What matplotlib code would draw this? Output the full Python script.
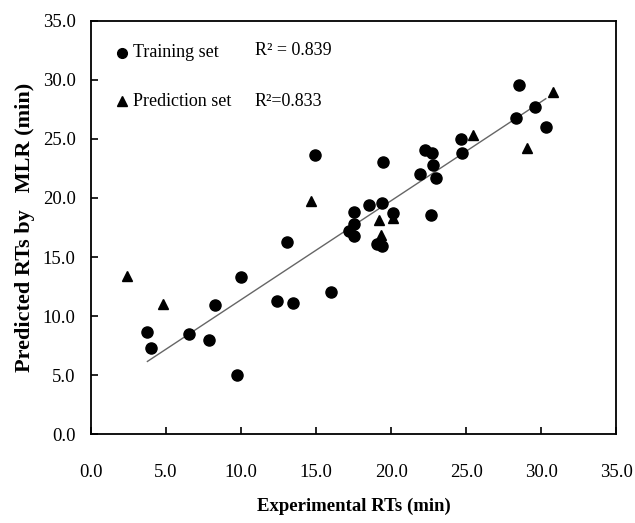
import numpy as np
import matplotlib
matplotlib.use("Agg")
import matplotlib.pyplot as plt

plt.rcParams["font.family"] = ["Liberation Serif", "DejaVu Serif"]

# training set: experimental vs predicted RTs (min)
train_exp = [3.76, 3.98, 6.55, 7.89, 8.29, 9.71, 10.02, 12.38, 13.49, 13.04,
             15.98, 14.93, 17.55, 17.2, 17.5, 17.5, 18.55, 19.38, 20.1, 19.04,
             19.38, 19.49, 21.93, 22.27, 22.71, 22.82, 23.0, 22.64, 24.64, 24.75,
             28.33, 28.51, 29.62, 30.31]
train_pred = [8.62, 7.29, 8.48, 7.99, 10.97, 5.02, 13.27, 11.31, 11.14, 16.27,
              12.07, 23.64, 18.82, 17.2, 17.8, 16.8, 19.39, 19.58, 18.7, 16.13,
              15.9, 23.02, 22.0, 24.06, 23.78, 22.79, 21.71, 18.54, 25.0, 23.78,
              26.81, 29.53, 27.69, 26.0]

# prediction set
test_exp = [2.38, 4.78, 14.67, 19.2, 20.1, 19.33, 25.49, 29.09, 30.78]
test_pred = [13.35, 11.03, 19.73, 18.17, 18.3, 16.84, 25.34, 24.21, 29.02]

r2_train = 0.839
r2_test = 0.833

fig = plt.figure(figsize=(6.35, 5.23), dpi=100)
ax = fig.add_axes([0.1433, 0.170, 0.827, 0.790])

# fitted line over the training range
k, b = np.polyfit(train_exp, train_pred, 1)
xl = np.array([min(train_exp), max(train_exp)])
ax.plot(xl, k * xl + b, color="#666666", lw=1.0, zorder=1)

ax.plot(train_exp, train_pred, "o", color="black", ms=8, zorder=3)
ax.plot(test_exp, test_pred, "^", color="black", ms=7.5, zorder=3)

ax.set_xlim(0, 35)
ax.set_ylim(0, 35)
ticks = np.arange(0, 35.1, 5)
ax.set_xticks(ticks)
ax.set_yticks(ticks)
ax.set_xticklabels([f"{t:.1f}" for t in ticks])
ax.set_yticklabels([f"{t:.1f}" for t in ticks])
ax.tick_params(axis="x", direction="in", length=5, width=1.2, pad=21.5, labelsize=13.5)
ax.tick_params(axis="y", direction="in", length=5, width=1.2, pad=11, labelsize=13.5)
for s in ax.spines.values():
    s.set_linewidth(1.3)

ax.text(0.5, -0.175, "Experimental RTs (min)", transform=ax.transAxes,
        fontsize=13.5, fontweight="bold", ha="center", va="center")
ax.text(-0.126, 0.5, "Predicted RTs by   MLR (min)", transform=ax.transAxes,
        fontsize=16, fontweight="bold", ha="center", va="center", rotation=90)

# legend-like annotations
ax.plot([2.05], [32.3], "o", color="black", ms=7)
ax.text(2.8, 32.3, "Training set", fontsize=13, va="center")
ax.text(10.93, 32.5, f"R² = {r2_train:.3f}", fontsize=13, va="center")
ax.plot([2.05], [28.2], "^", color="black", ms=7)
ax.text(2.8, 28.2, "Prediction set", fontsize=13, va="center")
ax.text(10.93, 28.2, f"R²={r2_test:.3f}", fontsize=13, va="center")

fig.savefig("out.png", dpi=100)
